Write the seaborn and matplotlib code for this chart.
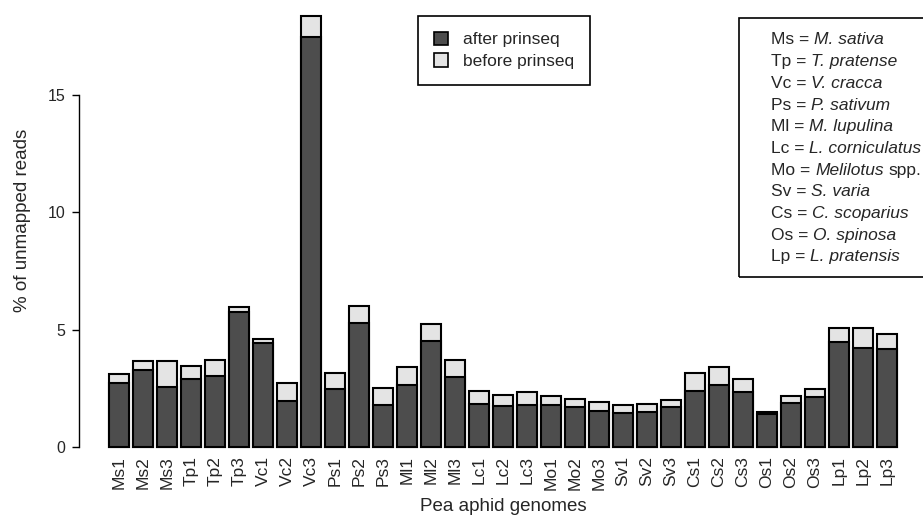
import numpy as np
import pandas as pd
import matplotlib
matplotlib.use('Agg')
import matplotlib.pyplot as plt
from matplotlib.patches import Patch, Rectangle
import seaborn as sns

# Genome samples (x axis)
genomes = ['Ms1', 'Ms2', 'Ms3', 'Tp1', 'Tp2', 'Tp3', 'Vc1', 'Vc2', 'Vc3',
           'Ps1', 'Ps2', 'Ps3', 'Ml1', 'Ml2', 'Ml3', 'Lc1', 'Lc2', 'Lc3',
           'Mo1', 'Mo2', 'Mo3', 'Sv1', 'Sv2', 'Sv3', 'Cs1', 'Cs2', 'Cs3',
           'Os1', 'Os2', 'Os3', 'Lp1', 'Lp2', 'Lp3']

# % of unmapped reads after / before prinseq filtering
after_prinseq = [2.73, 3.27, 2.54, 2.90, 3.01, 5.76, 4.43, 1.96, 17.48,
                 2.48, 5.27, 1.77, 2.63, 4.51, 2.98, 1.82, 1.73, 1.78,
                 1.77, 1.71, 1.52, 1.45, 1.48, 1.71, 2.38, 2.63, 2.34,
                 1.40, 1.88, 2.14, 4.47, 4.20, 4.17]
before_prinseq = [3.10, 3.66, 3.66, 3.46, 3.69, 5.96, 4.60, 2.72, 18.40,
                  3.13, 5.99, 2.52, 3.40, 5.23, 3.70, 2.38, 2.22, 2.35,
                  2.15, 2.05, 1.90, 1.79, 1.84, 1.99, 3.13, 3.39, 2.90,
                  1.48, 2.16, 2.45, 5.06, 5.06, 4.83]

# Host plant abbreviations for the key
abbrevs = ['Ms', 'Tp', 'Vc', 'Ps', 'Ml', 'Lc', 'Mo', 'Sv', 'Cs', 'Os', 'Lp']
species_italic = ['M. sativa', 'T. pratense', 'V. cracca', 'P. sativum',
                  'M. lupulina', 'L. corniculatus', 'Melilotus', 'S. varia',
                  'C. scoparius', 'O. spinosa', 'L. pratensis']
species_plain = ['', '', '', '', '', '', 'spp.', '', '', '', '']

dark = '#4d4d4d'
light = '#e4e4e4'

sns.set_style('white')
plt.rcParams['font.family'] = ['Liberation Sans', 'DejaVu Sans']

W, H = 923, 527
fig = plt.figure(figsize=(W / 100, H / 100), dpi=100)
ax_left, ax_bottom = 79, 452
ax = fig.add_axes([ax_left / W, (H - ax_bottom) / H, (W - ax_left) / W, ax_bottom / H])

df = pd.DataFrame({'genome': genomes, 'after': after_prinseq, 'before': before_prinseq})

sns.barplot(data=df, x='genome', y='before', color=light, saturation=1,
            edgecolor='black', linewidth=1.5, width=20 / 24, ax=ax)
sns.barplot(data=df, x='genome', y='after', color=dark, saturation=1,
            edgecolor='black', linewidth=1.5, width=20 / 24, ax=ax)

ax.set_xlim(-40 / 24, (W - 119) / 24)
ax.set_ylim(-(ax_bottom - 446.7) / 23.42, 446.7 / 23.42)

for side in ['top', 'right', 'bottom']:
    ax.spines[side].set_visible(False)
ax.spines['left'].set_bounds(0, 15)
ax.spines['left'].set_linewidth(1.0)
ax.spines['left'].set_color('black')

ax.set_yticks([0, 5, 10, 15])
ax.tick_params(axis='y', length=5, width=1, labelsize=11.5, pad=5, color='black', left=True)
ax.tick_params(axis='x', length=0, labelsize=12.5, pad=3, labelrotation=90)

ax.set_ylabel('% of unmapped reads', fontsize=13.5)
ax.yaxis.set_label_coords((31 - ax_left) / (W - ax_left), (ax_bottom - 220) / ax_bottom)
ax.set_xlabel('Pea aphid genomes', fontsize=13.5)
ax.xaxis.set_label_coords((503 - ax_left) / (W - ax_left), (ax_bottom - 498) / ax_bottom)

handles = [Patch(facecolor=dark, edgecolor='black', linewidth=1.2),
           Patch(facecolor=light, edgecolor='black', linewidth=1.2)]
leg = fig.legend(handles=handles, labels=['after prinseq', 'before prinseq'],
                 loc='upper left', bbox_to_anchor=(418 / W, 1 - 16 / H),
                 bbox_transform=fig.transFigure, fontsize=12.5,
                 frameon=True, fancybox=False, framealpha=1, edgecolor='black',
                 handlelength=0.8, handleheight=0.8, handletextpad=0.9,
                 labelspacing=0.35, borderpad=0.9, borderaxespad=0)
leg.get_frame().set_linewidth(1.2)

# species key on the right (mixed upright / italic text)
fig.add_artist(Rectangle((739 / W, 1 - 277 / H), (950 - 739) / W, (277 - 18) / H,
                         transform=fig.transFigure, fill=False,
                         edgecolor='black', linewidth=1.2))
renderer = fig.canvas.get_renderer()
key_size = 12.5
space_px = 0.278 * key_size * 100 / 72
for i, (ab, it, pl) in enumerate(zip(abbrevs, species_italic, species_plain)):
    y = 1 - (40 + 21.7 * i) / H
    x = 771 / W
    for part, style in [(ab + ' =', 'normal'), (it, 'italic'), (pl, 'normal')]:
        if not part:
            continue
        t = fig.text(x, y, part, fontsize=key_size, fontstyle=style,
                     ha='left', va='center')
        ext = t.get_window_extent(renderer)
        x = (ext.x1 + space_px) / W

fig.savefig('out.png', dpi=100)
